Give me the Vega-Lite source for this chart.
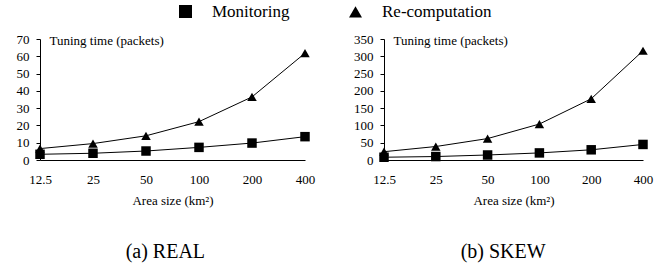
{
  "$schema": "https://vega.github.io/schema/vega-lite/v6.json",
  "padding": {"left": 16, "top": 3, "right": 2, "bottom": 2},
  "config": {
    "font": "Liberation Serif",
    "view": {"stroke": null},
    "axis": {"grid": false, "domainColor": "black", "tickColor": "black", "labelColor": "black", "titleColor": "black", "titleFontWeight": "normal", "labelFont": "Liberation Serif", "titleFont": "Liberation Serif", "labelFontSize": 13, "titleFontSize": 13},
    "legend": {"layout": {"top": {"anchor": "middle"}}},
    "concat": {"spacing": 38}
  },
  "datasets": {
    "real": [
      {"area": "12.5", "method": "Monitoring", "time": 3.3},
      {"area": "25", "method": "Monitoring", "time": 3.9},
      {"area": "50", "method": "Monitoring", "time": 5.2},
      {"area": "100", "method": "Monitoring", "time": 7.3},
      {"area": "200", "method": "Monitoring", "time": 9.8},
      {"area": "400", "method": "Monitoring", "time": 13.5},
      {"area": "12.5", "method": "Re-computation", "time": 6.6},
      {"area": "25", "method": "Re-computation", "time": 9.5},
      {"area": "50", "method": "Re-computation", "time": 14},
      {"area": "100", "method": "Re-computation", "time": 22.2},
      {"area": "200", "method": "Re-computation", "time": 36.5},
      {"area": "400", "method": "Re-computation", "time": 61.8}
    ],
    "skew": [
      {"area": "12.5", "method": "Monitoring", "time": 8},
      {"area": "25", "method": "Monitoring", "time": 10},
      {"area": "50", "method": "Monitoring", "time": 14.5},
      {"area": "100", "method": "Monitoring", "time": 20.5},
      {"area": "200", "method": "Monitoring", "time": 29.5},
      {"area": "400", "method": "Monitoring", "time": 45},
      {"area": "12.5", "method": "Re-computation", "time": 24},
      {"area": "25", "method": "Re-computation", "time": 39},
      {"area": "50", "method": "Re-computation", "time": 62},
      {"area": "100", "method": "Re-computation", "time": 104},
      {"area": "200", "method": "Re-computation", "time": 177},
      {"area": "400", "method": "Re-computation", "time": 316}
    ]
  },
  "resolve": {"scale": {"x": "independent", "y": "independent", "shape": "shared"}, "legend": {"shape": "shared"}},
  "hconcat": [
    {
      "data": {"name": "real"},
      "width": 265,
      "height": 121,
      "title": {"text": "(a) REAL", "orient": "bottom", "frame": "bounds", "anchor": "middle", "fontSize": 20, "fontWeight": "normal", "font": "Liberation Serif", "color": "black", "offset": 35},
      "mark": {"type": "line", "color": "black", "strokeWidth": 1, "point": {"filled": true, "size": 90, "color": "black"}},
      "encoding": {
        "x": {"field": "area", "type": "ordinal", "sort": ["12.5", "25", "50", "100", "200", "400"], "scale": {"type": "point", "padding": 0}, "axis": {"title": "Area size (km²)", "labelAngle": 0, "ticks": false, "labelPadding": 13, "titlePadding": 8}},
        "y": {"field": "time", "type": "quantitative", "scale": {"domain": [0, 70], "nice": false}, "axis": {"values": [0, 10, 20, 30, 40, 50, 60, 70], "tickSize": 4, "labelPadding": 7, "title": "Tuning time (packets)", "titleAngle": 0, "titleAlign": "left", "titleBaseline": "middle", "titleX": 9, "titleY": 1}},
        "detail": {"field": "method", "type": "nominal"},
        "shape": {"field": "method", "type": "nominal", "scale": {"domain": ["Monitoring", "Re-computation"], "range": ["square", "triangle-up"]},
          "legend": {"orient": "top", "direction": "horizontal", "title": null, "labelFontSize": 17, "labelFont": "Liberation Serif", "labelColor": "black", "symbolSize": 169, "symbolFillColor": "black", "symbolStrokeColor": "black", "labelOffset": 18, "columnPadding": 56, "offset": 12}}
      }
    },
    {
      "data": {"name": "skew"},
      "width": 259,
      "height": 121,
      "title": {"text": "(b) SKEW", "orient": "bottom", "frame": "bounds", "anchor": "middle", "fontSize": 20, "fontWeight": "normal", "font": "Liberation Serif", "color": "black", "offset": 35},
      "mark": {"type": "line", "color": "black", "strokeWidth": 1, "point": {"filled": true, "size": 90, "color": "black"}},
      "encoding": {
        "x": {"field": "area", "type": "ordinal", "sort": ["12.5", "25", "50", "100", "200", "400"], "scale": {"type": "point", "padding": 0}, "axis": {"title": "Area size (km²)", "labelAngle": 0, "ticks": false, "labelPadding": 13, "titlePadding": 8}},
        "y": {"field": "time", "type": "quantitative", "scale": {"domain": [0, 350], "nice": false}, "axis": {"values": [0, 50, 100, 150, 200, 250, 300, 350], "tickSize": 4, "labelPadding": 7, "title": "Tuning time (packets)", "titleAngle": 0, "titleAlign": "left", "titleBaseline": "middle", "titleX": 9, "titleY": 1}},
        "detail": {"field": "method", "type": "nominal"},
        "shape": {"field": "method", "type": "nominal", "scale": {"domain": ["Monitoring", "Re-computation"], "range": ["square", "triangle-up"]}, "legend": null}
      }
    }
  ]
}
